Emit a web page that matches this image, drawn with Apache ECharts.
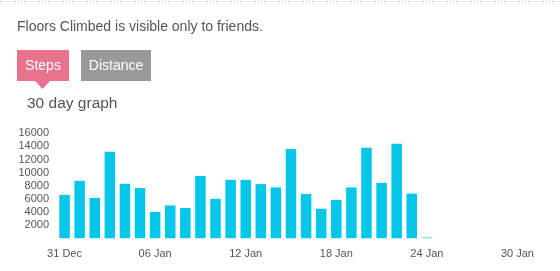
<!DOCTYPE html>
<html><head><meta charset="utf-8">
<script src="https://cdn.jsdelivr.net/npm/echarts@6/dist/echarts.min.js"></script>
<style>html,body{margin:0;padding:0;background:#fff}#c{width:560px;height:271px}</style>
</head><body><div id="c"></div>
<script>
const categories = ['31 Dec','01 Jan','02 Jan','03 Jan','04 Jan','05 Jan','06 Jan','07 Jan','08 Jan','09 Jan','10 Jan','11 Jan','12 Jan','13 Jan','14 Jan','15 Jan','16 Jan','17 Jan','18 Jan','19 Jan','20 Jan','21 Jan','22 Jan','23 Jan','24 Jan','25 Jan','26 Jan','27 Jan','28 Jan','29 Jan','30 Jan'];
const steps = [6600,8750,6150,13200,8300,7650,4000,5000,4600,9500,6000,8900,8900,8250,7750,13600,6750,4500,5850,7750,13800,8450,14400,6800,100,null,null,null,null,null,null];
const yTicks = [2000,4000,6000,8000,10000,12000,14000,16000];
const headerText = 'Floors Climbed is visible only to friends.';
const tabLabels = ['Steps','Distance'];
const subtitle = '30 day graph';

const chart = echarts.init(document.getElementById('c'), null, {renderer:'canvas'});
const font = '"Liberation Sans", Arial, sans-serif';
chart.setOption({
  animation:false,
  textStyle:{fontFamily:font},
  graphic:[
    {type:'line',shape:{x1:0,y1:1.5,x2:560,y2:1.5},style:{stroke:'#bbb',lineWidth:1,lineDash:[1,2]}},
    {type:'text',left:17,top:20,style:{text:headerText,font:'14px '+font,fill:'#555'}},
    {type:'rect',shape:{x:17,y:50,width:52,height:31},style:{fill:'#e9728f'}},
    {type:'polygon',shape:{points:[[35,81],[50,81],[42.5,89]]},style:{fill:'#e9728f'}},
    {type:'text',x:43,y:66,style:{text:tabLabels[0],font:'14px '+font,fill:'#fff',align:'center',verticalAlign:'middle'}},
    {type:'rect',shape:{x:81,y:50,width:70,height:31},style:{fill:'#999999'}},
    {type:'text',x:116,y:66,style:{text:tabLabels[1],font:'14px '+font,fill:'#fff',align:'center',verticalAlign:'middle'}},
    {type:'text',left:27,top:96,style:{text:subtitle,font:'15.5px '+font,fill:'#555'}}
  ],
  grid:{left:57,right:35,top:133.3,bottom:32.8,containLabel:false},
  xAxis:{type:'category',data:categories,boundaryGap:true,
    axisLine:{show:false},axisTick:{show:false},
    axisLabel:{interval:5,color:'#555',fontSize:11,margin:10,fontFamily:font}},
  yAxis:{type:'value',min:0,max:16000,interval:2000,
    axisLine:{show:false},axisTick:{show:false},splitLine:{show:false},
    axisLabel:{color:'#555',fontSize:11,margin:8,fontFamily:font,
      formatter:v=>yTicks.includes(v)?String(v):''}},
  series:[{type:'bar',data:steps,barWidth:10.5,itemStyle:{color:'#06c7e9'}}]
});
</script></body></html>
